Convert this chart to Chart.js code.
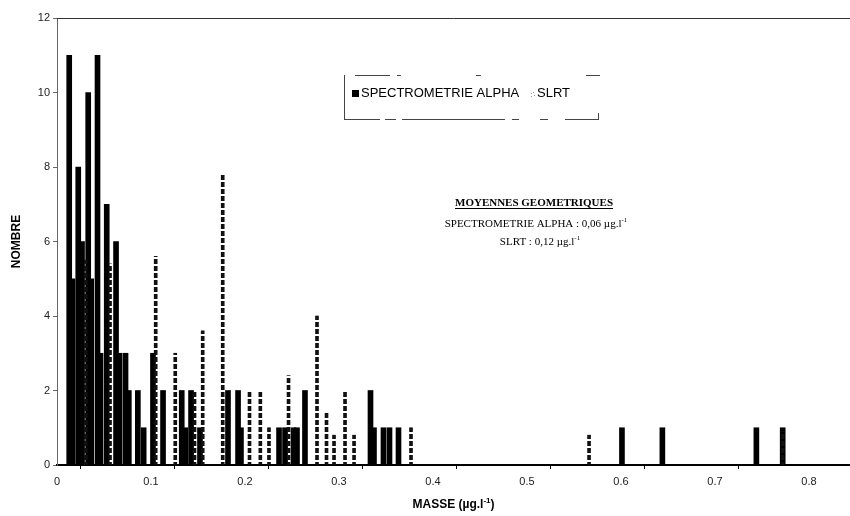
<!DOCTYPE html>
<html>
<head>
<meta charset="utf-8">
<script src="https://cdn.jsdelivr.net/npm/chart.js@4.4.0/dist/chart.umd.min.js"></script>
<style>
  html, body { margin: 0; padding: 0; background: #fff; }
  #cadre { width: 850px; height: 516px; }
</style>
</head>
<body>
<div id="cadre"><canvas id="graphique" width="850" height="516"></canvas></div>
<script>
// Valeurs : masse (µg/l) et nombre d'échantillons
const masseAlpha = [0.013, 0.0165, 0.0226, 0.0266, 0.0332, 0.0364, 0.0431, 0.0463, 0.0529, 0.0628,
    0.0665, 0.0729, 0.0764, 0.086, 0.0922, 0.1021, 0.1128, 0.1327, 0.1365, 0.1426,
    0.1521, 0.1819, 0.1926, 0.1957, 0.2362, 0.2426, 0.2516, 0.2553, 0.2638, 0.3335,
    0.3372, 0.3473, 0.3537, 0.3633, 0.601, 0.644, 0.744, 0.772];
const nombreAlpha = [11, 5, 8, 6, 10, 5, 11, 3, 7, 6,
    3, 3, 2, 2, 1, 3, 2, 2, 1, 2,
    1, 2, 2, 1, 1, 1, 1, 1, 2, 2,
    1, 1, 1, 1, 1, 1, 1, 1];

const masseSlrt = [0.0305, 0.0564, 0.105, 0.1258, 0.1463, 0.155, 0.1763, 0.2048, 0.2163, 0.2255,
    0.2463, 0.2766, 0.2867, 0.2947, 0.3064, 0.316, 0.3766, 0.566, 0.772];
const nombreSlrt = [5.5, 5.4, 5.6, 3, 2, 3.6, 7.8, 2, 2, 1,
    2.4, 4, 1.4, 0.8, 2, 0.8, 1, 0.8, 0.9];

const legendes = ['SPECTROMETRIE ALPHA', 'SLRT'];
const moyennes = ['0,06', '0,12'];

const sans = "'Liberation Sans', Arial, sans-serif";
const serif = "'Liberation Serif', 'Times New Roman', serif";

// Motif pointillé pour les barres SLRT (traits noirs, trous transparents)
function motifPointille(ctx) {
    const c = document.createElement('canvas');
    c.width = 4;
    c.height = 7;
    const g = c.getContext('2d');
    g.fillStyle = '#111';
    g.fillRect(0, 0, 4, 5);
    return ctx.createPattern(c, 'repeat');
}

// Texte centré avec morceaux en exposant : [[texte, exposant], ...]
function texteExposant(ctx, morceaux, cx, y, taille, famille, poids) {
    const fNormal = poids + ' ' + taille + 'px ' + famille;
    const fExp = poids + ' ' + Math.round(taille * 0.65) + 'px ' + famille;
    let total = 0;
    morceaux.forEach((m) => {
        ctx.font = m[1] ? fExp : fNormal;
        total += ctx.measureText(m[0]).width;
    });
    let x = cx - total / 2;
    ctx.textAlign = 'left';
    ctx.textBaseline = 'alphabetic';
    morceaux.forEach((m) => {
        ctx.font = m[1] ? fExp : fNormal;
        ctx.fillText(m[0], x, m[1] ? y - taille * 0.42 : y);
        x += ctx.measureText(m[0]).width;
    });
}

// bout de trait (le cadre de la légende est interrompu sur le scan)
function trait(ctx, x1, y1, x2, y2) {
    ctx.beginPath();
    ctx.moveTo(x1, y1);
    ctx.lineTo(x2, y2);
    ctx.stroke();
}

const decor = {
    id: 'decor',
    afterDraw(chart) {
        const ctx = chart.ctx;
        const a = chart.chartArea;
        ctx.save();
        ctx.strokeStyle = '#333';
        ctx.lineWidth = 1;

        // cadre haut
        trait(ctx, a.left, a.top + 0.5, a.right, a.top + 0.5);

        // cadre de la légende
        ctx.strokeStyle = '#444';
        [[355, 390], [397, 401], [476, 481], [586, 600]].forEach((s) => trait(ctx, s[0], 75.5, s[1], 75.5));
        [[344, 380], [385, 396], [402, 505], [512, 519], [540, 548], [565, 599]].forEach((s) => trait(ctx, s[0], 119.5, s[1], 119.5));
        trait(ctx, 344.5, 75, 344.5, 120);
        trait(ctx, 598.5, 113, 598.5, 120);

        ctx.fillStyle = '#000';
        ctx.fillRect(352, 90, 7, 7);
        ctx.font = '13px ' + sans;
        ctx.textAlign = 'left';
        ctx.textBaseline = 'alphabetic';
        ctx.fillText(legendes[0], 361, 97);
        ctx.fillStyle = '#999';
        ctx.fillRect(531, 93, 1, 1);
        ctx.fillRect(533, 92, 1, 1);
        ctx.fillRect(531, 96, 1, 1);
        ctx.fillRect(534, 95, 1, 1);
        ctx.fillStyle = '#000';
        ctx.fillText(legendes[1], 537, 97);

        // moyennes géométriques
        ctx.font = 'bold 11px ' + serif;
        ctx.textAlign = 'center';
        const titre = 'MOYENNES GEOMETRIQUES';
        ctx.fillText(titre, 534, 206);
        const w = ctx.measureText(titre).width;
        ctx.fillRect(534 - w / 2, 208, w, 1);
        texteExposant(ctx, [[legendes[0] + ' : ' + moyennes[0] + ' µg.l', false], ['-1', true]],
            536, 227, 11, serif, 'normal');
        texteExposant(ctx, [[legendes[1] + ' : ' + moyennes[1] + ' µg.l', false], ['-1', true]],
            540, 245, 11, serif, 'normal');

        // titres des axes
        texteExposant(ctx, [['MASSE (µg.l', false], ['-1', true], [')', false]],
            (a.left + a.right) / 2, 508, 12, sans, 'bold');
        ctx.translate(20, (a.top + a.bottom) / 2);
        ctx.rotate(-Math.PI / 2);
        ctx.font = 'bold 12px ' + sans;
        ctx.textAlign = 'center';
        ctx.fillText('NOMBRE', 0, 0);
        ctx.restore();
    }
};

const canvas = document.getElementById('graphique');
const ctx = canvas.getContext('2d');

new Chart(ctx, {
    type: 'bar',
    data: {
        datasets: [{
            label: legendes[0],
            data: masseAlpha.map((m, i) => ({ x: m, y: nombreAlpha[i] })),
            backgroundColor: '#000',
            barThickness: 5,
            order: 1
        }, {
            label: legendes[1],
            data: masseSlrt.map((m, i) => ({ x: m, y: nombreSlrt[i] })),
            backgroundColor: motifPointille(ctx),
            barThickness: 3,
            order: 0
        }]
    },
    options: {
        responsive: false,
        animation: false,
        grouped: false,
        layout: { padding: { top: 18, left: 0, right: 0, bottom: 0 } },
        plugins: {
            legend: { display: false },
            tooltip: { enabled: false }
        },
        scales: {
            x: {
                type: 'linear',
                min: 0,
                max: 0.8436,
                offset: false,
                afterFit: (s) => { s.height = 51; },
                border: { color: '#000', width: 2 },
                grid: {
                    drawOnChartArea: false,
                    tickLength: 4,
                    color: (c) => (c.tick && Math.round(c.tick.value * 20) % 2 ? '#000' : 'rgba(0,0,0,0)')
                },
                ticks: {
                    stepSize: 0.05,
                    includeBounds: false,
                    autoSkip: false,
                    maxRotation: 0,
                    padding: 6,
                    color: '#222',
                    font: { family: sans, size: 11 },
                    callback: function (v) {
                        const k = Math.round(v * 20);
                        if (k % 2) return '';
                        return k === 0 ? '0' : (k / 20).toFixed(1);
                    }
                }
            },
            y: {
                min: 0,
                max: 12,
                afterFit: (s) => { s.width = 57; },
                border: { color: '#666', width: 1 },
                grid: { drawOnChartArea: false, tickLength: 4, color: '#666' },
                ticks: {
                    stepSize: 2,
                    padding: 3,
                    color: '#222',
                    font: { family: sans, size: 11 }
                }
            }
        }
    },
    plugins: [decor]
});
</script>
</body>
</html>
